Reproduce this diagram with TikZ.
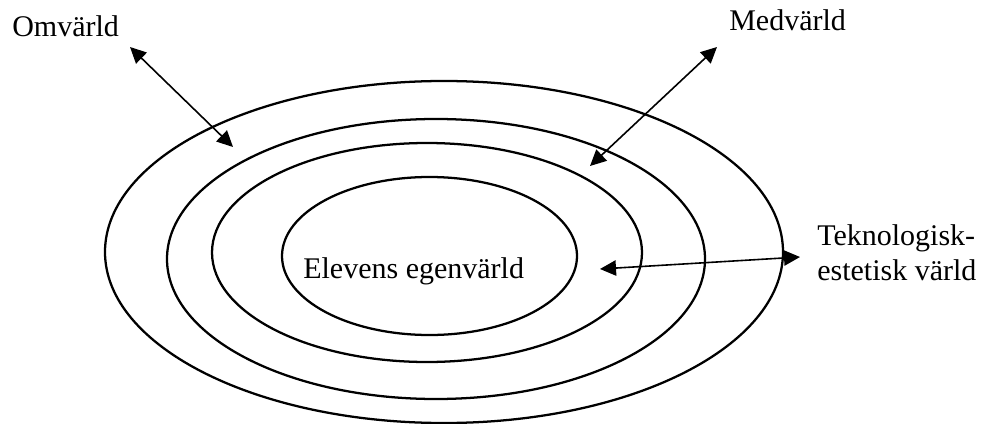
\documentclass[tikz,border=0pt]{standalone}
\usepackage{fontspec}
\setmainfont{Liberation Serif}
\usetikzlibrary{arrows.meta}
\begin{document}
\begin{tikzpicture}[x=0.75pt,y=-0.75pt,
  ring/.style={line width=1.7pt},
  lbl/.style={inner sep=0pt,font=\fontsize{22.5}{26.25}\selectfont},
  dbl/.style={line width=1.2pt,{Triangle[length=12pt,width=11.5pt]}-{Triangle[length=12pt,width=11.5pt]}}]
\useasboundingbox (0,0) rectangle (987,424);
% rings
\draw[ring] (444,252) ellipse [x radius=339, y radius=171];
\draw[ring] (436,259) ellipse [x radius=269, y radius=140];
\draw[ring] (427,252.5) ellipse [x radius=215, y radius=109.5];
\draw[ring] (429.5,256) ellipse [x radius=147.5, y radius=79];
% labels
\node[lbl,anchor=base west] (omv) at (12,37) {Omvärld};
\node[lbl,anchor=base west] (med) at (729,31) {Medvärld};
\node[lbl,anchor=base west] (ege) at (303,278) {Elevens egenvärld};
\node[lbl,anchor=base west,align=left] (tek) at (817,280) {Teknologisk-\\estetisk värld};
% arrow end points
\coordinate (o1) at (130,47);
\coordinate (o2) at (233,147);
\coordinate (m1) at (717,47);
\coordinate (m2) at (590,166);
\coordinate (t1) at (600,269);
\coordinate (t2) at (800,257);
\draw[dbl] (o1) -- (o2);
\draw[dbl] (m2) -- (m1);
\draw[dbl] (t1) -- (t2);
\end{tikzpicture}
\end{document}
